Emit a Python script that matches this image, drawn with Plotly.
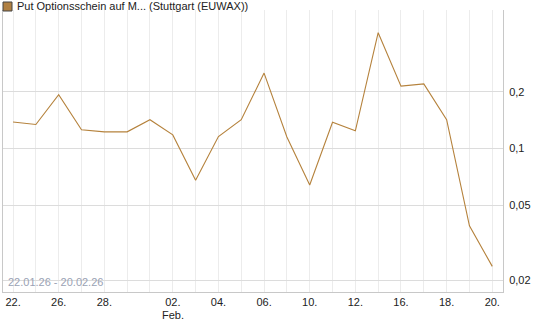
import plotly.graph_objects as go

dates = ["22.01.", "23.01.", "26.01.", "27.01.", "28.01.", "29.01.", "30.01.",
         "02.02.", "03.02.", "04.02.", "05.02.", "06.02.",
         "09.02.", "10.02.", "11.02.", "12.02.", "13.02.",
         "16.02.", "17.02.", "18.02.", "19.02.", "20.02."]
prices = [0.138, 0.134, 0.193, 0.1255, 0.1225, 0.1225, 0.142,
          0.118, 0.0678, 0.1157, 0.142, 0.251,
          0.115, 0.064, 0.1377, 0.124, 0.411,
          0.214, 0.220, 0.142, 0.0389, 0.0237]
tick_labels = ["22.", "", "26.", "", "28.", "", "",
               "02.", "", "04.", "", "06.",
               "", "10.", "", "12.", "",
               "16.", "", "18.", "", "20."]
month_label = "Feb."
month_index = 7
y_ticks = [0.02, 0.05, 0.1, 0.2]
y_tick_text = ["0,02", "0,05", "0,1", "0,2"]
series_name = "Put Optionsschein auf M... (Stuttgart (EUWAX))"
range_text = "22.01.26 - 20.02.26"

x = list(range(len(dates)))
line_color = "#b5823c"

fig = go.Figure()
fig.add_trace(go.Scatter(x=x, y=prices, mode="lines",
                         line=dict(color=line_color, width=1.1),
                         hoverinfo="skip", showlegend=False))

fig.update_layout(
    width=545, height=327,
    margin=dict(l=3, r=42, t=10, b=35),
    paper_bgcolor="white", plot_bgcolor="white",
    font=dict(family="Liberation Sans, Arial, sans-serif", size=11, color="#222"),
    showlegend=False,
    xaxis=dict(
        range=[-0.44, 21.47],
        tickmode="array", tickvals=x, ticktext=tick_labels,
        showgrid=True, gridcolor="#ececec", gridwidth=1,
        showline=True, linecolor="#c8c8c8", linewidth=1,
        ticks="", zeroline=False, fixedrange=True,
        tickfont=dict(size=11, color="#222"),
    ),
    yaxis=dict(
        type="log", range=[-1.761, -0.266], side="right",
        tickmode="array", tickvals=y_ticks, ticktext=y_tick_text,
        showgrid=True, gridcolor="#dcdcdc", gridwidth=1,
        showline=True, linecolor="#c8c8c8", linewidth=1, mirror=True,
        ticks="outside", ticklen=3, tickcolor="rgba(0,0,0,0)",
        zeroline=False, fixedrange=True,
        tickfont=dict(size=11, color="#222"),
    ),
)

# month label under the "02." tick
fig.add_annotation(xref="x", yref="paper", x=x[month_index], y=-23 / 282,
                   text=month_label, showarrow=False, xanchor="center", yanchor="middle",
                   font=dict(size=11, color="#222"))

# legend box and text
fig.add_shape(type="rect", xref="paper", yref="paper",
              x0=0 / 500, x1=9 / 500, y0=1 + (10 - 11) / 282, y1=1 + (10 - 2) / 282,
              fillcolor="#b08042", line=dict(color="#444", width=1))
fig.add_annotation(xref="paper", yref="paper", x=12 / 500, y=1 + 3.5 / 282,
                   text=series_name, showarrow=False, xanchor="left", yanchor="middle",
                   font=dict(size=11, color="#222"))
fig.add_annotation(xref="paper", yref="paper", x=3 / 500, y=10 / 282,
                   text=range_text, showarrow=False, xanchor="left", yanchor="middle",
                   font=dict(size=11, color="#9aa2b4"))

fig.write_html("out.html")
